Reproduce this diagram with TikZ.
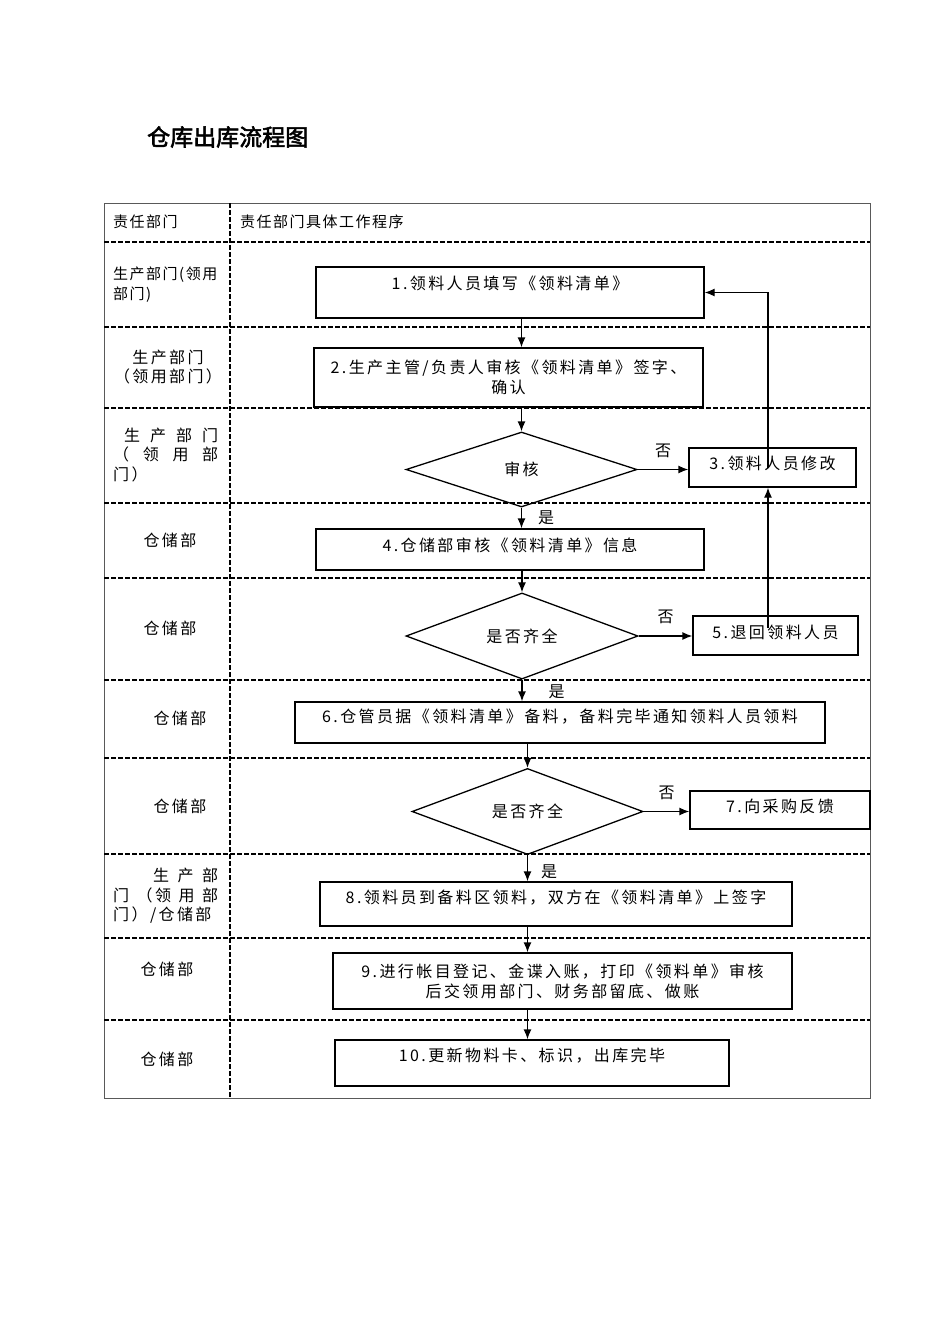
\documentclass[tikz,border=0pt]{standalone}
\usepackage{fontspec}
\setmainfont{Noto Sans CJK SC}
\newfontfamily\boxfont[LetterSpace=15]{Noto Sans CJK SC}
\newfontfamily\headfont[LetterSpace=10]{Noto Sans CJK SC}
\newfontfamily\titlefont[FakeBold=2.5]{Noto Sans CJK SC}
\usetikzlibrary{shapes.geometric, arrows.meta, positioning}

\tikzset{
    stepbox/.style={draw, line width=1.3pt, inner sep=0, align=center,
        font=\boxfont\fontsize{16}{20}\selectfont},
    lift/.style={text height=12pt, text depth=#1},
    decision/.style={draw, diamond, line width=1.3pt, inner sep=0,
        font=\boxfont\fontsize{16}{20}\selectfont},
    dept/.style={inner sep=0, align=left, font=\boxfont\fontsize{16}{19.5}\selectfont},
    head/.style={inner sep=0, align=left, font=\headfont\fontsize{15}{20}\selectfont},
    flow/.style={-{Latex[length=10pt,width=8pt]}, line width=1.3pt},
    yesno/.style={inner sep=0, font=\fontsize{16}{18}\selectfont},
    rowline/.style={line width=1.2pt, dash pattern=on 5pt off 2pt}
}

\begin{document}
\begin{tikzpicture}[x=1pt, y=-1pt]
\useasboundingbox (0,0) rectangle (950,1344);

\node[font=\titlefont\fontsize{23}{25}\selectfont, anchor=west, inner sep=0] (title) at (147,137) {仓库出库流程图};

% Table
\draw[gray!70!black, line width=1pt] (104,203) rectangle (870,1098);
\draw[rowline] (230,203) -- (230,1098);
\foreach \y in {242,327,408,503,578,680,758,854,938,1020}
    \draw[rowline] (104,\y) -- (870,\y);

% Left column
\node[head, anchor=west] (dep0) at (113,222) {责任部门};
\node[head, anchor=west] (work0) at (240,222) {责任部门具体工作程序};
\node[head, anchor=west] (dep1) at (113,285) {生产部门(领用\\部门)};
\node[dept, align=center] (dep2) at (168,367) {生产部门\\（领用部门）};
\node[dept, anchor=west] (dep3) at (113,455) {%
    \makebox[105pt][s]{\hspace{11pt}生\hfill 产\hfill 部\hfill 门}\\
    \makebox[105pt][s]{（\hfill 领\hfill 用\hfill 部}\\
    门）};
\node[dept] (dep4) at (170,540) {仓储部};
\node[dept] (dep5) at (170,628) {仓储部};
\node[dept] (dep6) at (180,718) {仓储部};
\node[dept] (dep7) at (180,806) {仓储部};
\node[dept, anchor=west] (dep8) at (113,896) {%
    \makebox[105pt][s]{\hspace{40pt}生\hfill 产\hfill 部}\\
    \makebox[105pt][s]{门\hfill （领\hfill 用\hfill 部}\\
    门）/仓储部};
\node[dept] (dep9) at (167,969) {仓储部};
\node[dept] (dep10) at (167,1059) {仓储部};

% Steps
\node[stepbox, lift=19pt,
    minimum width=388pt,
    minimum height=51pt] (block1) at (510,292.5) {1.领料人员填写《领料清单》};

\node[stepbox,
    minimum width=389pt,
    minimum height=59pt] (block2) at (508.5,377.5) {2.生产主管/负责人审核《领料清单》签字、\\确认};

\node[decision,
    minimum width=231pt,
    minimum height=75pt] (dec1) at (521.5,469.5) {审核};

\node[stepbox, lift=8pt,
    minimum width=167pt,
    minimum height=39pt] (block3) at (772.5,467.5) {3.领料人员修改};

\node[stepbox, lift=9pt,
    minimum width=388pt,
    minimum height=41pt] (block4) at (510,549.5) {4.仓储部审核《领料清单》信息};

\node[decision,
    minimum width=232pt,
    minimum height=74pt] (dec2) at (522,636) {是否齐全};

\node[stepbox, lift=7pt,
    minimum width=165pt,
    minimum height=39pt] (block5) at (775.5,635.5) {5.退回领料人员};

\node[stepbox, lift=13pt,
    minimum width=530pt,
    minimum height=41pt] (block6) at (560,722.5) {6.仓管员据《领料清单》备料，备料完毕通知领料人员领料};

\node[decision,
    minimum width=231pt,
    minimum height=53pt] (dec3) at (527.5,811.5) {是否齐全};

\node[stepbox, lift=8pt,
    minimum width=180pt,
    minimum height=38pt] (block7) at (780,810) {7.向采购反馈};

\node[stepbox, lift=14pt,
    minimum width=472pt,
    minimum height=44pt] (block8) at (556,904) {8.领料员到备料区领料，双方在《领料清单》上签字};

\node[stepbox,
    minimum width=459pt,
    minimum height=56pt] (block9) at (562.5,981) {9.进行帐目登记、金谍入账，打印《领料单》审核\\后交领用部门、财务部留底、做账};

\node[stepbox, lift=16pt,
    minimum width=394pt,
    minimum height=46pt] (block10) at (532,1063) {10.更新物料卡、标识，出库完毕};

% Arrows
\draw[flow] (block1.south -| dec1) -- (block2.north -| dec1);
\draw[flow] (block2.south -| dec1) -- (dec1.north);
\draw[flow] (dec1.south) -- node[yesno, right=16pt] {是} (block4.north -| dec1);
\draw[flow] (dec1.east) -- node[yesno, above=11pt] {否} (dec1.east -| block3.west);
\draw[flow] ([xshift=-4.5pt]block3.center) |- (block1.east);

\draw[flow] (block4.south -| dec2) -- (dec2.north);
\draw[flow] (dec2.south) -- node[yesno, right=26pt, pos=0.55] {是} (block6.north -| dec2);
\draw[flow] (dec2.east) -- node[yesno, above=12pt] {否} (dec2.east -| block5.west);
\draw[flow] ([xshift=-7.5pt, yshift=8pt]block5.center) -- ([xshift=-7.5pt]block5.north |- block3.south);

\draw[flow] (block6.south -| dec3) -- (dec3.north);
\draw[flow] (dec3.east) -- node[yesno, above=11pt] {否} (dec3.east -| block7.west);
\draw[flow] (dec3.south) -- node[yesno, right=13pt, pos=0.65] {是} (block8.north -| dec3);
\draw[flow] (block8.south -| dec3) -- (block9.north -| dec3);
\draw[flow] (block9.south -| dec3) -- (block10.north -| dec3);

\end{tikzpicture}
\end{document}
